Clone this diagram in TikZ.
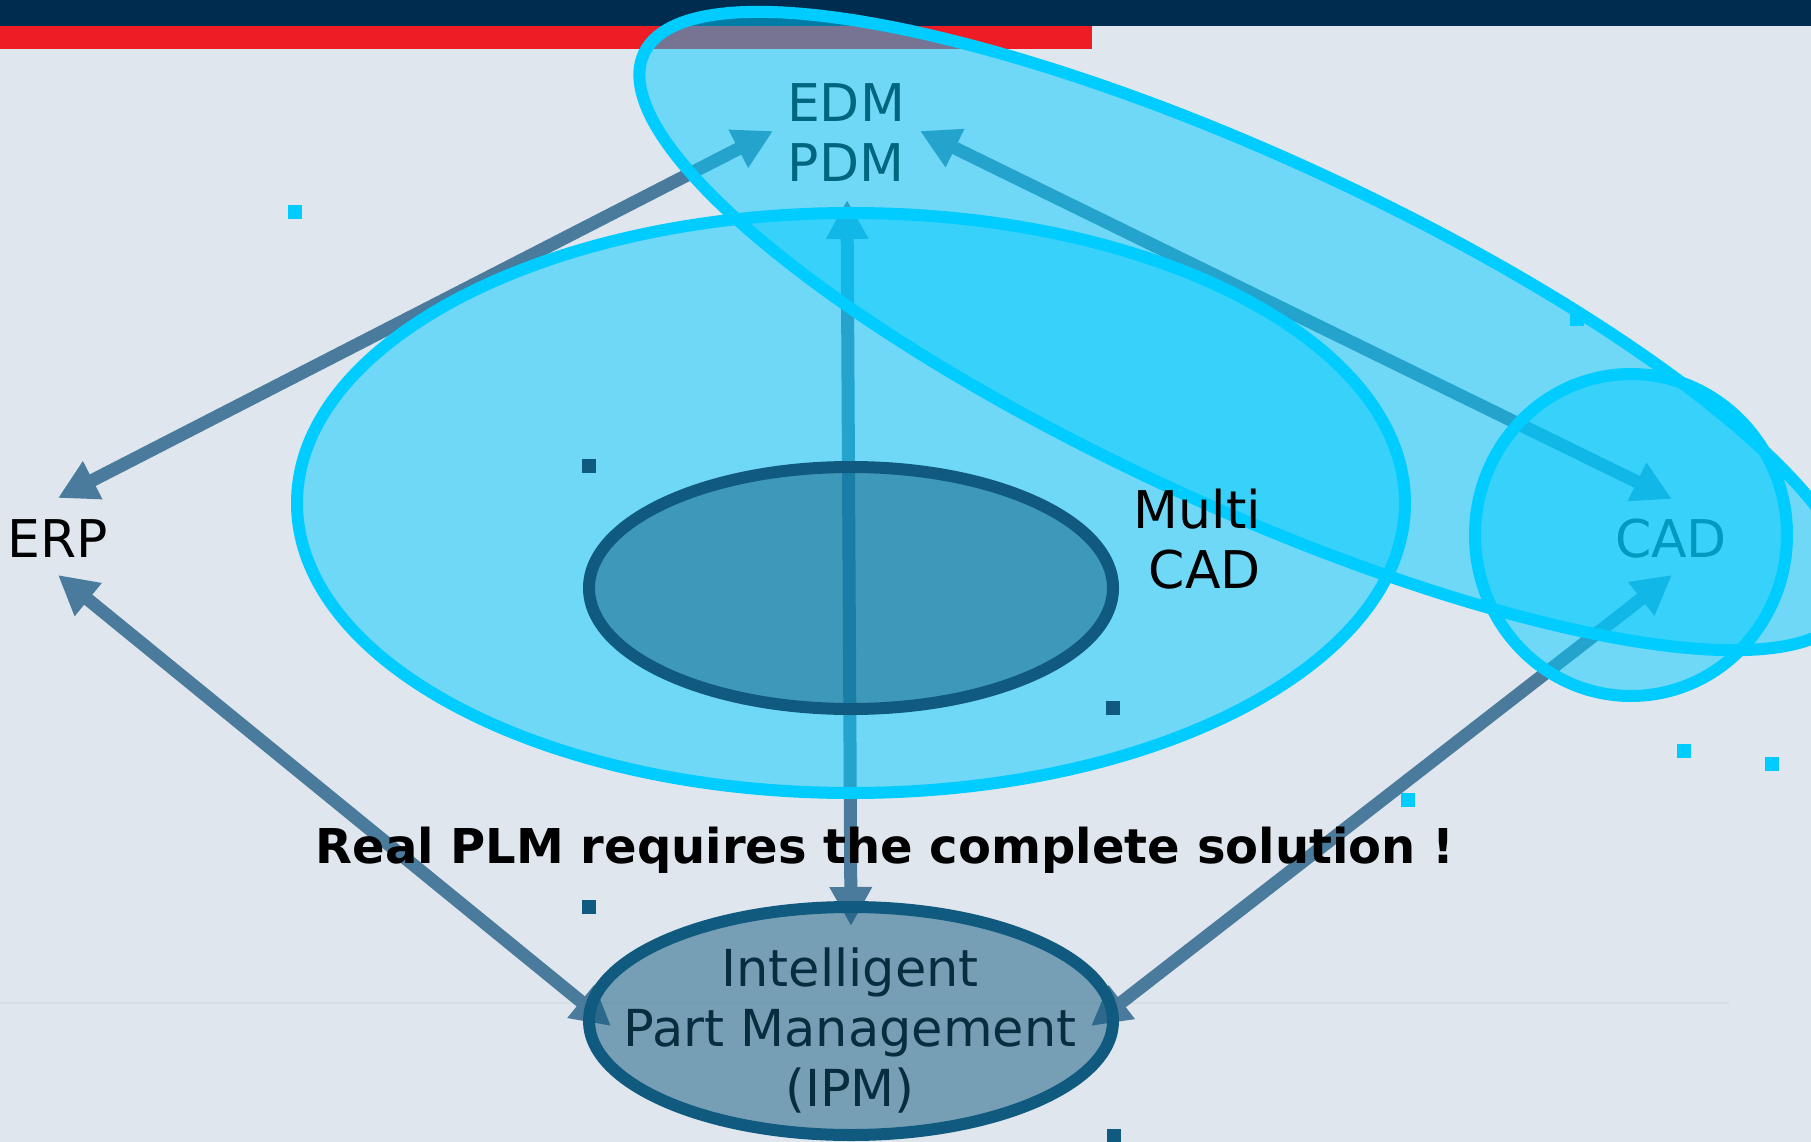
\documentclass[tikz,border=0pt]{standalone}
\usepackage{fontspec}
\setmainfont{DejaVu Sans}
\usetikzlibrary{arrows.meta}
\definecolor{bgcol}{HTML}{DFE6ED}
\definecolor{navy}{HTML}{002D4F}
\definecolor{barred}{HTML}{EE1C25}
\definecolor{cyanline}{HTML}{00CCFF}
\definecolor{linkcol}{HTML}{4A7A9C}
\definecolor{deepblue}{HTML}{0F5A7E}
\definecolor{seam}{HTML}{D5DFDF}
\tikzset{
  linkarrow/.style={draw=linkcol, line width=13pt,
    {Triangle[length=39pt,width=40pt]}-{Triangle[length=39pt,width=40pt]}},
  haze/.style={draw=cyanline, line width=12pt, fill=cyanline, fill opacity=0.5},
  corefill/.style={draw=deepblue, line width=12pt, fill=deepblue, fill opacity=0.5},
  txt/.style={font=\fontsize{52}{60}\selectfont, inner sep=0pt, align=center},
  handlebox/.style={minimum size=14pt, inner sep=0pt, draw=none},
}
\begin{document}
\begin{tikzpicture}[x=1pt,y=-1pt]
\useasboundingbox (0,0) rectangle (1811,1142);
\clip (0,0) rectangle (1811,1142);
% page background and header bars
\fill[bgcol] (0,0) rectangle (1811,1142);
\fill[navy] (0,0) rectangle (1811,26);
\fill[barred] (0,26) rectangle (1092,49);
\draw[seam, line width=2pt] (0,1003) -- (1729,1003);

% arrow end points
\coordinate (edm-w) at (773,131);
\coordinate (edm-e) at (920,131);
\coordinate (edm-s) at (847,200);
\coordinate (erp-n) at (58,498);
\coordinate (erp-s) at (58,575);
\coordinate (cad-n) at (1672,499);
\coordinate (cad-s) at (1672,575);
\coordinate (ipm-w) at (611,1026);
\coordinate (ipm-e) at (1091,1026);
\coordinate (ipm-n) at (851,926);

% links between the systems
\draw[linkarrow] (erp-n) -- (edm-w);
\draw[linkarrow] (edm-e) -- (cad-n);
\draw[linkarrow] (erp-s) -- (ipm-w);
\draw[linkarrow] (cad-s) -- (ipm-e);
\draw[linkarrow] (edm-s) -- (ipm-n);

% labels lying under the tinted areas (base = last line)
\node[txt, anchor=base] (edm) at (846,182) {EDM\\PDM};
\node[txt, anchor=base] (cad) at (1671,557) {CAD};
\node[txt, anchor=base, font=\fontsize{51}{60}\selectfont] (ipm) at (850,1106)
  {Intelligent\\Part Management\\(IPM)};

% tinted areas
\draw[haze] (851,503) ellipse [x radius=554pt, y radius=290pt];
\draw[haze, rotate around={-24.72:(1246,331)}] (1246,331) ellipse [x radius=663pt, y radius=174pt];
\draw[haze] (1631,535) ellipse [x radius=156pt, y radius=161pt];
\draw[corefill] (851,588) ellipse [x radius=262pt, y radius=121pt];
\draw[corefill] (851,1021) ellipse [x radius=262pt, y radius=114pt];

% labels on top
\node[txt, anchor=base east, align=right] (multi) at (1261,588) {Multi\\CAD};
\node[txt, anchor=base] (erp) at (58,557) {ERP};
\node[txt, anchor=base, font=\bfseries\fontsize{48}{58}\selectfont] (claim) at (885,863)
  {Real PLM requires the complete solution !};

% small handle marks
\node[handlebox, fill=cyanline] (h1) at (295,212) {};
\node[handlebox, fill=cyanline] (h2) at (1577,319) {};
\node[handlebox, fill=cyanline] (h3) at (1408,800) {};
\node[handlebox, fill=cyanline] (h4) at (1684,751) {};
\node[handlebox, fill=cyanline] (h5) at (1772,764) {};
\node[handlebox, fill=deepblue] (h6) at (589,466) {};
\node[handlebox, fill=deepblue] (h7) at (1113,708) {};
\node[handlebox, fill=deepblue] (h8) at (589,907) {};
\node[handlebox, fill=deepblue] (h9) at (1114,1136) {};
\end{tikzpicture}
\end{document}
